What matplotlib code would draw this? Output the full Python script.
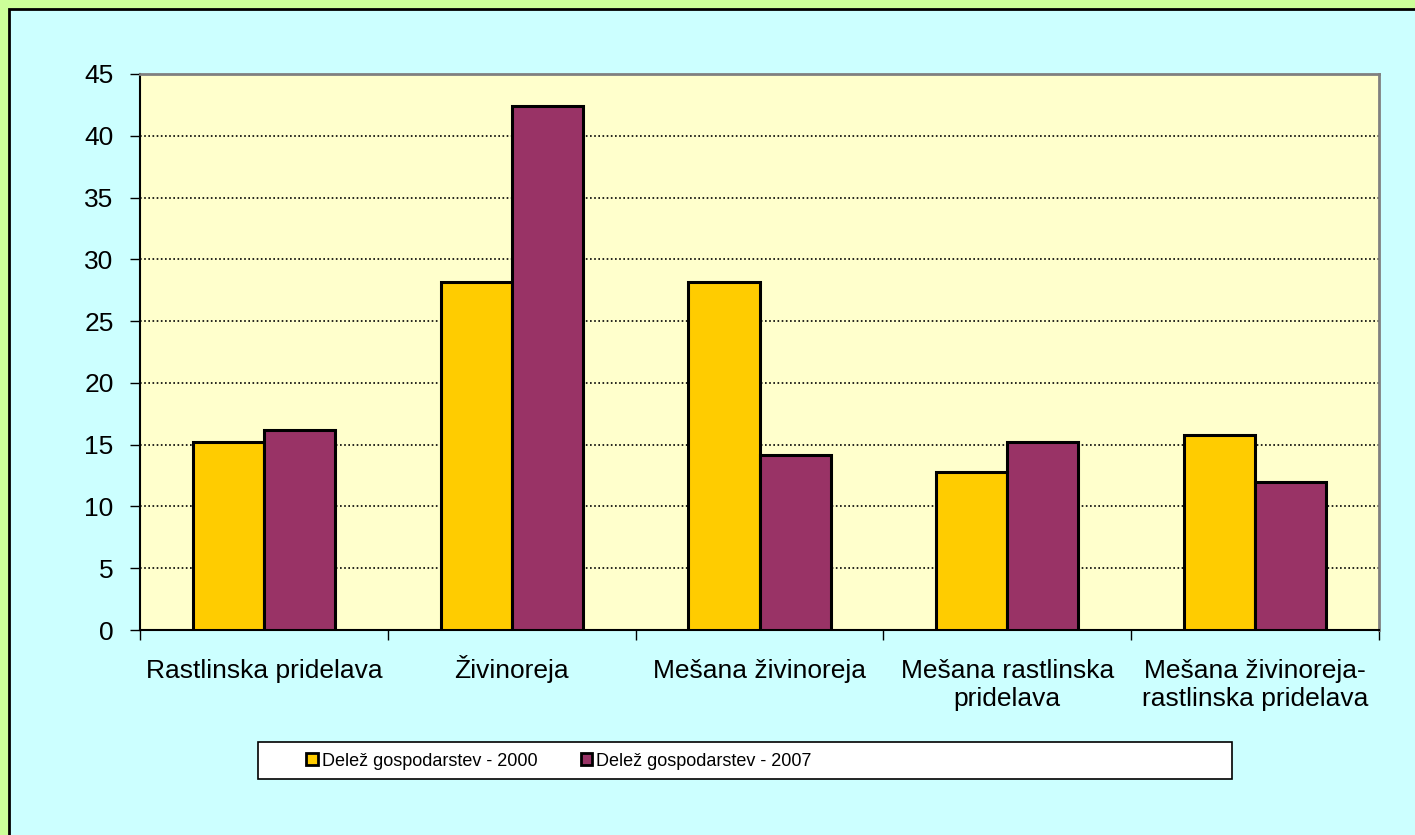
import matplotlib
matplotlib.use("Agg")
import matplotlib.pyplot as plt
import numpy as np
from matplotlib.patches import Rectangle
from matplotlib.ticker import FixedLocator, MultipleLocator
from matplotlib.transforms import ScaledTranslation

plt.rcParams["font.family"] = ["Liberation Sans", "DejaVu Sans"]

CATEGORIES = [
    "Rastlinska pridelava",
    "Živinoreja",
    "Mešana živinoreja",
    "Mešana rastlinska\npridelava",
    "Mešana živinoreja-\nrastlinska pridelava",
]
SHARE_2000 = [15.2, 28.2, 28.2, 12.8, 15.8]
SHARE_2007 = [16.2, 42.4, 14.2, 15.2, 12.0]
SERIES_LABELS = ["Delež gospodarstev - 2000", "Delež gospodarstev - 2007"]
COLORS = ["#FFCC00", "#993366"]

W, H = 1415, 835
fig = plt.figure(figsize=(W / 100, H / 100), dpi=100, facecolor="#CCFF99")

# cyan chart panel with black edge on top/left
fig.patches.append(Rectangle((9 / W, -0.01), 1.02, 1 - 9 / H + 0.01, transform=fig.transFigure,
                             facecolor="#CCFFFF", edgecolor="black", linewidth=2, zorder=-2))

ax = fig.add_axes([140 / W, (H - 630) / H, 1239 / W, 556 / H])
ax.set_zorder(2)
ax.set_facecolor("#FFFFCC")

x = np.arange(len(CATEGORIES))
width = 0.287
ax.bar(x - width / 2, SHARE_2000, width, color=COLORS[0], edgecolor="black", linewidth=2.2,
       label=SERIES_LABELS[0], zorder=3)
ax.bar(x + width / 2, SHARE_2007, width, color=COLORS[1], edgecolor="black", linewidth=2.2,
       label=SERIES_LABELS[1], zorder=3)

ax.set_xlim(-0.5, len(CATEGORIES) - 0.5)
ax.set_ylim(0, 45)
ax.yaxis.set_major_locator(MultipleLocator(5))
ax.yaxis.grid(True, linestyle=(0, (1, 1.5)), color="black", linewidth=1.2, zorder=1)
ax.set_axisbelow(True)

ax.set_xticks(x)
ax.xaxis.set_minor_locator(FixedLocator(np.arange(-0.5, len(CATEGORIES), 1.0)))
ax.tick_params(axis="x", which="major", length=0, pad=21)
ax.tick_params(axis="x", which="minor", length=7, width=1, direction="out", color="black")
ax.tick_params(axis="y", length=7, width=1, direction="out", pad=12, labelsize=19, color="black")
labels = ax.set_xticklabels(CATEGORIES, fontsize=19, linespacing=1.2)
# the caron on Ž pushes a top-aligned label down; lift it back to the common baseline
for lab in labels:
    if lab.get_text().startswith("Ž"):
        lab.set_transform(lab.get_transform() + ScaledTranslation(0, 4.5 / 100, fig.dpi_scale_trans))

for side in ["top", "right"]:
    ax.spines[side].set_color("#808080")
    ax.spines[side].set_linewidth(2)
for side in ["left", "bottom"]:
    ax.spines[side].set_color("black")
    ax.spines[side].set_linewidth(1.5)

# legend box
fig.patches.append(Rectangle((258 / W, 1 - 779 / H), 974 / W, 37 / H, transform=fig.transFigure,
                             facecolor="white", edgecolor="black", linewidth=1.2, zorder=-1))
handles, leg_labels = ax.get_legend_handles_labels()
leg = fig.legend(handles, leg_labels, loc="center left", bbox_to_anchor=(290 / W, 1 - 761 / H),
                 ncol=2, frameon=False, handlelength=0.65, handleheight=0.65,
                 handletextpad=0.2, columnspacing=2.4,
                 prop={"family": ["Liberation Sans Narrow", "Liberation Sans"], "size": 13})
for patch in leg.get_patches():
    patch.set_linewidth(2)

fig.savefig("out.png", dpi=100, facecolor=fig.get_facecolor())
